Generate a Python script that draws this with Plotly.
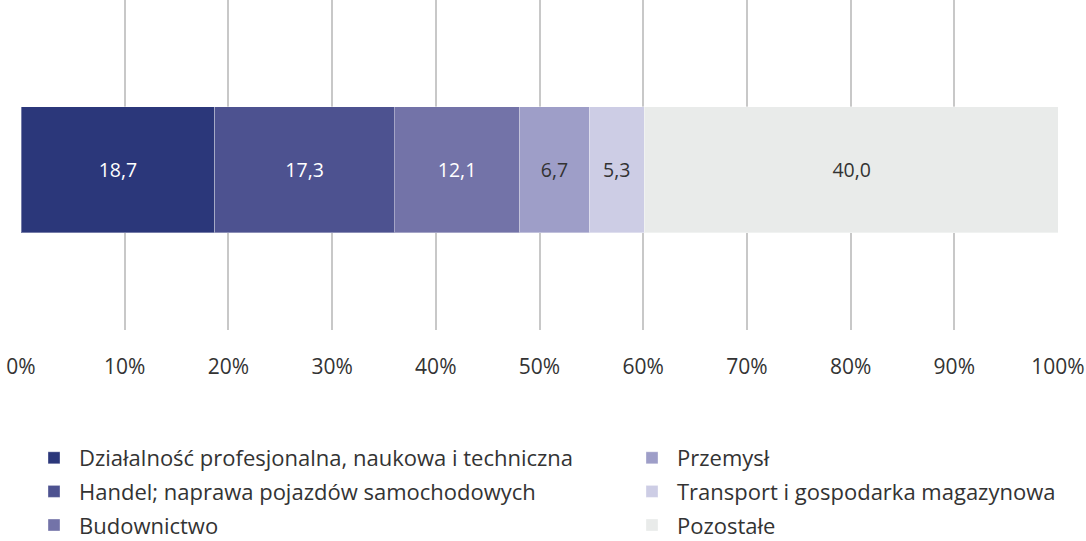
import plotly.graph_objects as go

categories = ["Działalność profesjonalna, naukowa i techniczna",
              "Handel; naprawa pojazdów samochodowych",
              "Budownictwo",
              "Przemysł",
              "Transport i gospodarka magazynowa",
              "Pozostałe"]
values = [18.7, 17.3, 12.1, 6.7, 5.3, 40.0]
colors = ["#2B377A", "#4D5290", "#7373A8", "#9E9EC8", "#CDCDE5", "#E9EBEA"]
text_colors = ["#FFFFFF", "#FFFFFF", "#FFFFFF", "#333333", "#333333", "#333333"]
tick_vals = [0, 10, 20, 30, 40, 50, 60, 70, 80, 90, 100]
tick_text = [f"{t}%" for t in tick_vals]

FONT = "Open Sans"

fig = go.Figure()
for i, (cat, v) in enumerate(zip(categories, values)):
    fig.add_trace(go.Bar(
        y=[""], x=[v], orientation="h", name=cat,
        marker=dict(color=colors[i], line=dict(color="rgba(255,255,255,0.35)", width=1)),
        text=[f"{v:.1f}".replace(".", ",")],
        textposition="inside", insidetextanchor="middle", textangle=0,
        textfont=dict(color=text_colors[i], size=19.5, family=FONT),
        width=0.382,
        legend="legend" if i < 3 else "legend2",
        legendgroup=f"g{i}",
        hoverinfo="skip",
    ))

fig.update_layout(
    barmode="stack",
    width=1086, height=541,
    margin=dict(l=21, r=28, t=0, b=211, autoexpand=False),
    uniformtext=dict(minsize=17, mode="show"),
    paper_bgcolor="white", plot_bgcolor="white",
    font=dict(family=FONT, color="#333333", size=18),
    xaxis=dict(range=[0, 100], tickvals=tick_vals, ticktext=tick_text,
               showgrid=True, gridcolor="#C8C8C8", gridwidth=2,
               zeroline=False, showline=False, ticks="",
               ticklabelstandoff=22, tickangle=0, automargin=False,
               ticklabeloverflow="allow",
               tickfont=dict(size=21, color="#333333", family=FONT)),
    yaxis=dict(range=[-0.485, 0.515], showticklabels=False, showgrid=False,
               zeroline=False, automargin=False, fixedrange=True),
    legend=dict(xref="container", yref="container", x=29/1086, y=1 - 437/541,
                xanchor="left", yanchor="top", tracegroupgap=2,
                font=dict(size=22, color="#333333", family=FONT),
                bgcolor="rgba(0,0,0,0)", itemwidth=40),
    legend2=dict(xref="container", yref="container", x=627/1086, y=1 - 437/541,
                 xanchor="left", yanchor="top", tracegroupgap=2,
                 font=dict(size=22, color="#333333", family=FONT),
                 bgcolor="rgba(0,0,0,0)", itemwidth=40),
    showlegend=True,
)

fig.write_html("out.html", config={"displayModeBar": False},
               post_script="document.body.style.margin='0';")
